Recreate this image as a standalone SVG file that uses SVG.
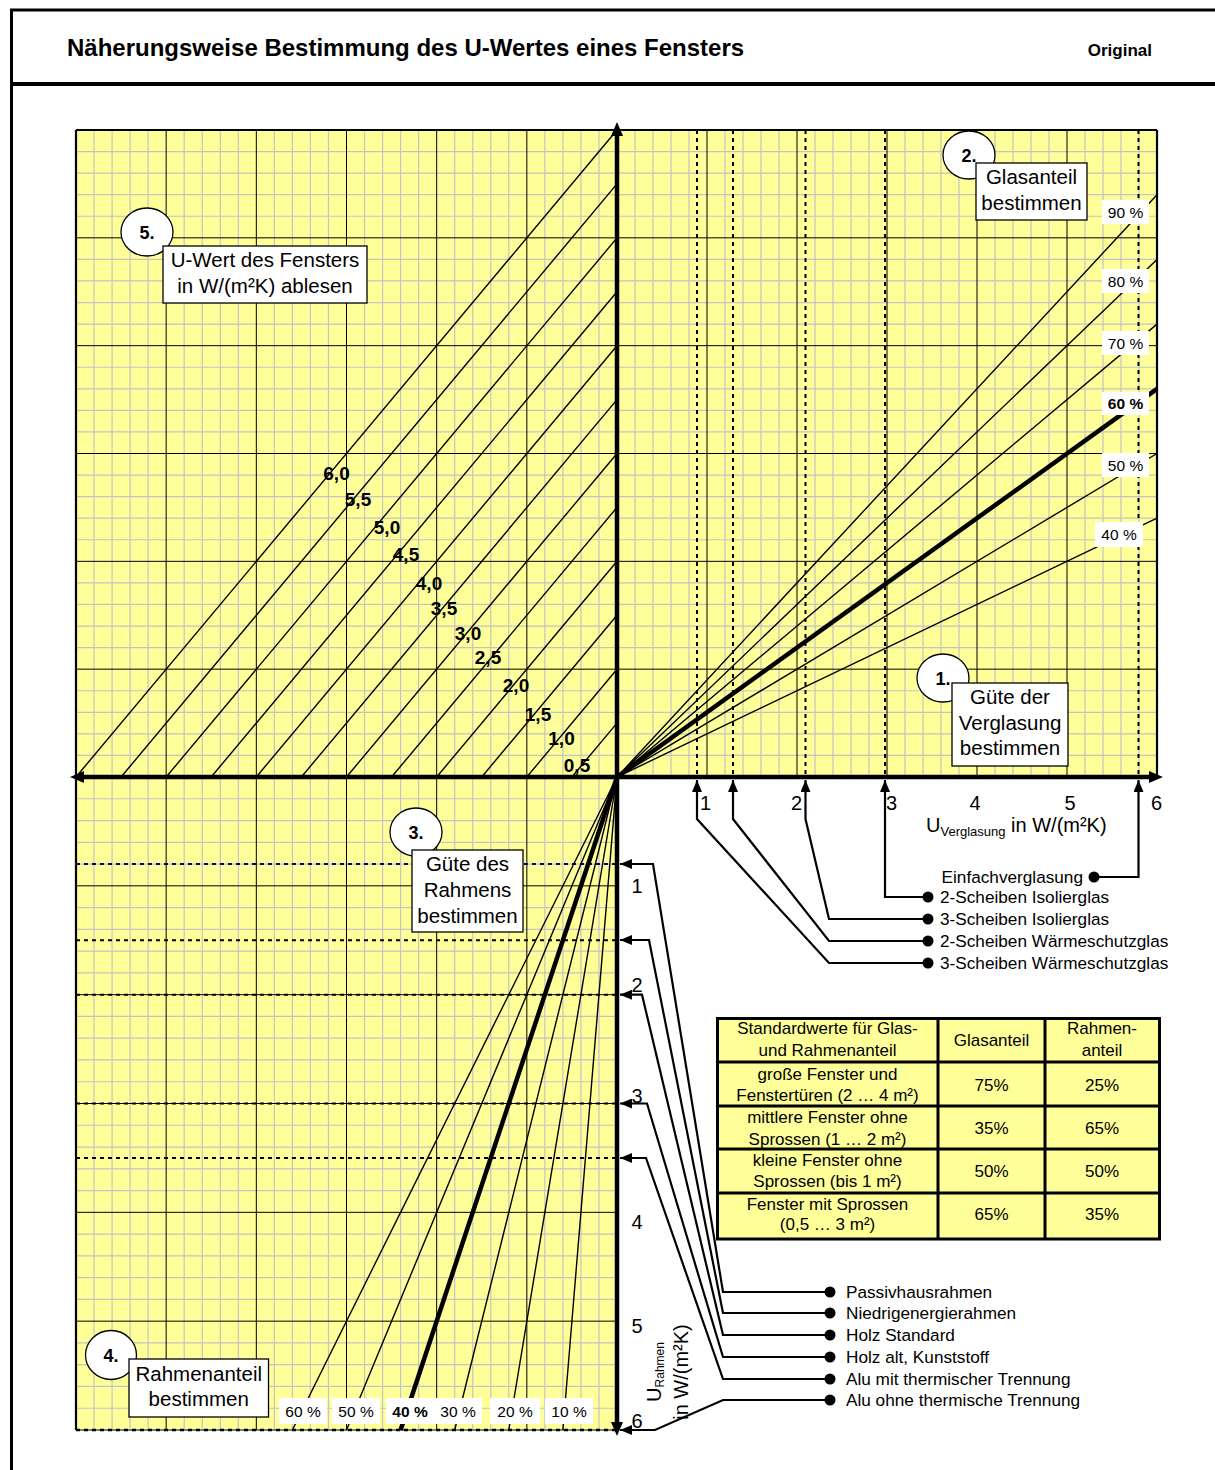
<svg xmlns="http://www.w3.org/2000/svg" width="1215" height="1470" viewBox="0 0 1215 1470">
<style>
.t{font-family:"Liberation Sans",Arial,sans-serif;fill:#000}
.b{font-weight:bold}
.mid{text-anchor:middle}
.minor{stroke:#c4c4c4;stroke-width:1.2;fill:none}
.major{stroke:#000;stroke-width:1;fill:none}
.dash{stroke:#000;stroke-width:2;stroke-dasharray:4 4;fill:none}
.diag{stroke:#000;stroke-width:1.4;fill:none}
.thick{stroke:#000;stroke-width:4.5;fill:none}
.axis{stroke:#000;stroke-width:4.5;fill:none}
.edge{stroke:#000;stroke-width:2.2;fill:none}
.conn{stroke:#000;stroke-width:2.2;fill:none}
.lbl{fill:#fff;stroke:none}
.box{fill:#fff;stroke:#000;stroke-width:1.3}
.circ{fill:#fff;stroke:#000;stroke-width:1.3}
.cell{fill:#ffff99;stroke:#000;stroke-width:3}
</style>
<defs>
<marker id="arr" viewBox="0 0 12 10" refX="12" refY="5" markerWidth="12" markerHeight="10" markerUnits="userSpaceOnUse" orient="auto"><path d="M0,0 L12,5 L0,10 z" fill="#000"/></marker>
</defs>
<rect x="0" y="0" width="1215" height="1470" fill="#fff"/>

<g id="frame">
<path d="M10,10 H1215 M11.5,10 V1470" stroke="#000" stroke-width="3" fill="none"/>
<path d="M10,84 H1215" stroke="#000" stroke-width="4" fill="none"/>
<text class="t b" x="67" y="56" font-size="24">Näherungsweise Bestimmung des U-Wertes eines Fensters</text>
<text class="t b" x="1152" y="56" font-size="17" text-anchor="end">Original</text>
</g>

<g id="chart-background">
<rect x="76" y="130" width="1081" height="647" fill="#ffff99"/>
<rect x="76" y="777" width="541" height="653" fill="#ffff99"/>
<path class="minor" d="M94.03,130V1430 M112.07,130V1430 M130.1,130V1430 M148.13,130V1430 M184.2,130V1430 M202.23,130V1430 M220.27,130V1430 M238.3,130V1430 M274.37,130V1430 M292.4,130V1430 M310.43,130V1430 M328.47,130V1430 M364.53,130V1430 M382.57,130V1430 M400.6,130V1430 M418.63,130V1430 M454.7,130V1430 M472.73,130V1430 M490.77,130V1430 M508.8,130V1430 M544.87,130V1430 M562.9,130V1430 M580.93,130V1430 M598.97,130V1430
M635,130V777 M653,130V777 M671,130V777 M689,130V777 M725,130V777 M743,130V777 M761,130V777 M779,130V777 M815,130V777 M833,130V777 M851,130V777 M869,130V777 M905,130V777 M923,130V777 M941,130V777 M959,130V777 M995,130V777 M1013,130V777 M1031,130V777 M1049,130V777 M1085,130V777 M1103,130V777 M1121,130V777 M1139,130V777
M76,151.57H1157 M76,173.13H1157 M76,194.7H1157 M76,216.27H1157 M76,259.4H1157 M76,280.97H1157 M76,302.53H1157 M76,324.1H1157 M76,367.23H1157 M76,388.8H1157 M76,410.37H1157 M76,431.93H1157 M76,475.07H1157 M76,496.63H1157 M76,518.2H1157 M76,539.77H1157 M76,582.9H1157 M76,604.47H1157 M76,626.03H1157 M76,647.6H1157 M76,690.73H1157 M76,712.3H1157 M76,733.87H1157 M76,755.43H1157
M76,798.77H617 M76,820.53H617 M76,842.3H617 M76,864.07H617 M76,907.6H617 M76,929.37H617 M76,951.13H617 M76,972.9H617 M76,1016.43H617 M76,1038.2H617 M76,1059.97H617 M76,1081.73H617 M76,1125.27H617 M76,1147.03H617 M76,1168.8H617 M76,1190.57H617 M76,1234.1H617 M76,1255.87H617 M76,1277.63H617 M76,1299.4H617 M76,1342.93H617 M76,1364.7H617 M76,1386.47H617 M76,1408.23H617"/>
<path class="major" d="M166.17,130V1430 M256.33,130V1430 M346.5,130V1430 M436.67,130V1430 M526.83,130V1430
M707,130V777 M797,130V777 M887,130V777 M977,130V777 M1067,130V777
M76,237.83H1157 M76,345.67H1157 M76,453.5H1157 M76,561.33H1157 M76,669.17H1157
M76,885.83H617 M76,994.67H617 M76,1103.5H617 M76,1212.33H617 M76,1321.17H617"/>
</g>

<g id="reference-lines">
<path class="dash" d="M697,130V777 M733,130V777 M805.5,130V777 M885,130V777 M1138.5,130V777"/>
<path class="dash" d="M76,864.1H617" stroke="#000080" style="stroke:#000080"/>
<path class="dash" d="M76,940.3H617 M76,994.67H617 M76,1103.5H617 M76,1157.9H617"/>
<path d="M76,1430H617" stroke="#000" stroke-width="1"/>
<path class="dash" d="M76,1430H617" style="stroke-width:2.5"/>
</g>

<g id="u-window-lines">
<path class="diag" d="M571.9,777L617,723.1 M526.8,777L617,669.2 M481.7,777L617,615.3 M436.7,777L617,561.3 M391.6,777L617,507.4 M346.5,777L617,453.5 M301.4,777L617,399.6 M256.3,777L617,345.7 M211.2,777L617,291.8 M166.2,777L617,237.9 M121.1,777L617,183.9 M76,777L617,130"/>
</g>

<g id="glass-share-lines">
<path class="diag" d="M617,777L1157,518.2 M617,777L1157,453.5 M617,777L1157,324.1 M617,777L1157,259.4 M617,777L1157,194.7"/>
<path class="thick" d="M617,777L1157,388.8"/>
</g>

<g id="frame-share-lines">
<path class="diag" d="M617,777L562.9,1430 M617,777L508.8,1430 M617,777L454.7,1430 M617,777L346.5,1430 M617,777L292.4,1430"/>
<path class="thick" d="M617,777L400.6,1430"/>
</g>

<g id="axes">
<path class="edge" d="M76,130H1157 M76,130V1430 M1157,130V777"/>
<path class="axis" d="M80,777H1153 M617,134V1426"/>
<path d="M617,122 L611,136 L623,136 z M1163,777 L1149,771 L1149,783 z M70,777 L84,771 L84,783 z M617,1436 L611,1422 L623,1422 z" fill="#000"/>
</g>

<g id="u-labels" class="t b mid" font-size="19">
<text x="336.5" y="480">6,0</text>
<text x="358" y="506">5,5</text>
<text x="387" y="534">5,0</text>
<text x="406" y="561">4,5</text>
<text x="429" y="590">4,0</text>
<text x="444" y="615">3,5</text>
<text x="468" y="640">3,0</text>
<text x="488" y="664">2,5</text>
<text x="516" y="692">2,0</text>
<text x="538" y="721">1,5</text>
<text x="561.5" y="745">1,0</text>
<text x="577" y="772">0,5</text>
</g>

<g id="glass-percent-labels" class="t mid" font-size="15.5">
<rect class="lbl" x="1102" y="200" width="47" height="24"/><text x="1125.5" y="217.5">90 %</text>
<rect class="lbl" x="1102" y="269" width="47" height="24"/><text x="1125.5" y="286.5">80 %</text>
<rect class="lbl" x="1102" y="331" width="47" height="24"/><text x="1125.5" y="348.5">70 %</text>
<rect class="lbl" x="1102" y="392" width="47" height="23"/><text class="b" x="1125.5" y="409">60 %</text>
<rect class="lbl" x="1102" y="453" width="47" height="24"/><text x="1125.5" y="470.5">50 %</text>
<rect class="lbl" x="1095" y="522" width="48" height="25"/><text x="1119" y="540">40 %</text>
</g>

<g id="frame-percent-labels" class="t mid" font-size="15.5">
<rect class="lbl" x="279" y="1398" width="48" height="26"/><text x="303" y="1416.5">60 %</text>
<rect class="lbl" x="332" y="1398" width="48" height="26"/><text x="356" y="1416.5">50 %</text>
<rect class="lbl" x="386" y="1398" width="48" height="26"/><text class="b" x="410" y="1416.5">40 %</text>
<rect class="lbl" x="434" y="1398" width="48" height="26"/><text x="458" y="1416.5">30 %</text>
<rect class="lbl" x="490" y="1398" width="50" height="26"/><text x="515" y="1416.5">20 %</text>
<rect class="lbl" x="545" y="1398" width="48" height="26"/><text x="569" y="1416.5">10 %</text>
</g>

<g id="x-axis-labels" class="t mid" font-size="20">
<text x="705.5" y="810">1</text>
<text x="796.5" y="810">2</text>
<text x="891.5" y="810">3</text>
<text x="975" y="810">4</text>
<text x="1070" y="810">5</text>
<text x="1156.5" y="810">6</text>
<text x="926" y="832" text-anchor="start">U<tspan font-size="13" dy="4">Verglasung</tspan><tspan dy="-4"> in W/(m²K)</tspan></text>
</g>

<g id="y-axis-labels" class="t mid" font-size="20">
<text x="637" y="893">1</text>
<text x="637" y="992">2</text>
<text x="637" y="1103">3</text>
<text x="637" y="1229">4</text>
<text x="637" y="1333">5</text>
<text x="637" y="1428">6</text>
<text transform="translate(661,1372) rotate(-90)">U<tspan font-size="12" dy="3">Rahmen</tspan></text>
<text transform="translate(688,1372) rotate(-90)">in W/(m²K)</text>
</g>

<g id="callout-1">
<ellipse class="circ" cx="943" cy="678" rx="26" ry="24"/>
<text class="t b mid" x="943" y="684.5" font-size="18">1.</text>
<rect class="box" x="952" y="683" width="116" height="83"/>
<text class="t mid" font-size="20.5"><tspan x="1010" y="704">Güte der</tspan><tspan x="1010" y="730">Verglasung</tspan><tspan x="1010" y="755">bestimmen</tspan></text>
</g>
<g id="callout-2">
<ellipse class="circ" cx="969" cy="155" rx="26" ry="24"/>
<text class="t b mid" x="969" y="161.5" font-size="18">2.</text>
<rect class="box" x="976" y="163" width="111" height="57"/>
<text class="t mid" font-size="20.5"><tspan x="1031.5" y="184">Glasanteil</tspan><tspan x="1031.5" y="210">bestimmen</tspan></text>
</g>
<g id="callout-3">
<ellipse class="circ" cx="416" cy="832" rx="26" ry="24"/>
<text class="t b mid" x="416" y="838.5" font-size="18">3.</text>
<rect class="box" x="412" y="850" width="111" height="82"/>
<text class="t mid" font-size="20.5"><tspan x="467.5" y="871">Güte des</tspan><tspan x="467.5" y="897">Rahmens</tspan><tspan x="467.5" y="923">bestimmen</tspan></text>
</g>
<g id="callout-4">
<ellipse class="circ" cx="111" cy="1355" rx="25.5" ry="24.5"/>
<text class="t b mid" x="111" y="1361.5" font-size="18">4.</text>
<rect class="box" x="129" y="1359" width="139.5" height="58"/>
<text class="t mid" font-size="20.5"><tspan x="198.75" y="1381">Rahmenanteil</tspan><tspan x="198.75" y="1406">bestimmen</tspan></text>
</g>
<g id="callout-5">
<ellipse class="circ" cx="147" cy="232" rx="26" ry="24"/>
<text class="t b mid" x="147" y="238.5" font-size="18">5.</text>
<rect class="box" x="163" y="246" width="204" height="57"/>
<text class="t mid" font-size="20.5"><tspan x="265" y="267">U-Wert des Fensters</tspan><tspan x="265" y="293">in W/(m²K) ablesen</tspan></text>
</g>

<g id="connectors">
<path class="conn" marker-end="url(#arr)" d="M1094,877 H1138.5 V780"/>
<path class="conn" marker-end="url(#arr)" d="M928,897 H885 V780"/>
<path class="conn" marker-end="url(#arr)" d="M928,919 H829 L805.5,819 V780"/>
<path class="conn" marker-end="url(#arr)" d="M928,941 H829 L733,819 V780"/>
<path class="conn" marker-end="url(#arr)" d="M928,963 H829 L697,819 V780"/>
<path class="conn" marker-end="url(#arr)" d="M830,1292 H723 L653,864 H620"/>
<path class="conn" marker-end="url(#arr)" d="M830,1313 H723 L649,940 H620"/>
<path class="conn" marker-end="url(#arr)" d="M830,1335 H723 L642,994.7 H620"/>
<path class="conn" marker-end="url(#arr)" d="M830,1357 H723 L647,1103.5 H620"/>
<path class="conn" marker-end="url(#arr)" d="M830,1379 H723 L646,1158 H620"/>
<path class="conn" marker-end="url(#arr)" d="M830,1400 H723 L655,1430 H620"/>
</g>

<g id="glazing-labels" class="t" font-size="17.2">
<circle cx="1094" cy="877" r="5.5"/><text x="1083" y="883" text-anchor="end">Einfachverglasung</text>
<circle cx="928" cy="897" r="5.5"/><text x="940" y="903">2-Scheiben Isolierglas</text>
<circle cx="928" cy="919" r="5.5"/><text x="940" y="925">3-Scheiben Isolierglas</text>
<circle cx="928" cy="941" r="5.5"/><text x="940" y="947">2-Scheiben Wärmeschutzglas</text>
<circle cx="928" cy="963" r="5.5"/><text x="940" y="969">3-Scheiben Wärmeschutzglas</text>
</g>

<g id="frame-labels" class="t" font-size="17.2">
<circle cx="830" cy="1292" r="5.5"/><text x="846" y="1298">Passivhausrahmen</text>
<circle cx="830" cy="1313" r="5.5"/><text x="846" y="1319">Niedrigenergierahmen</text>
<circle cx="830" cy="1335" r="5.5"/><text x="846" y="1341">Holz Standard</text>
<circle cx="830" cy="1357" r="5.5"/><text x="846" y="1363">Holz alt, Kunststoff</text>
<circle cx="830" cy="1379" r="5.5"/><text x="846" y="1385">Alu mit thermischer Trennung</text>
<circle cx="830" cy="1400" r="5.5"/><text x="846" y="1406">Alu ohne thermische Trennung</text>
</g>

<g id="standard-table">
<rect class="cell" x="717.5" y="1018.5" width="442" height="220.5"/>
<path d="M938,1018.5V1239 M1045,1018.5V1239 M717.5,1062H1159.5 M717.5,1106H1159.5 M717.5,1149H1159.5 M717.5,1193H1159.5" stroke="#000" stroke-width="3" fill="none"/>
<g class="t mid" font-size="17">
<text x="827.5" y="1034">Standardwerte für Glas-</text>
<text x="827.5" y="1056">und Rahmenanteil</text>
<text x="991.5" y="1046">Glasanteil</text>
<text x="1102" y="1034">Rahmen-</text>
<text x="1102" y="1056">anteil</text>
<text x="827.5" y="1080">große Fenster und</text>
<text x="827.5" y="1101">Fenstertüren (2 … 4 m²)</text>
<text x="991.5" y="1091">75%</text>
<text x="1102" y="1091">25%</text>
<text x="827.5" y="1123">mittlere Fenster ohne</text>
<text x="827.5" y="1145">Sprossen (1 … 2 m²)</text>
<text x="991.5" y="1134">35%</text>
<text x="1102" y="1134">65%</text>
<text x="827.5" y="1166">kleine Fenster ohne</text>
<text x="827.5" y="1187">Sprossen (bis 1 m²)</text>
<text x="991.5" y="1177">50%</text>
<text x="1102" y="1177">50%</text>
<text x="827.5" y="1210">Fenster mit Sprossen</text>
<text x="827.5" y="1230">(0,5 … 3 m²)</text>
<text x="991.5" y="1220">65%</text>
<text x="1102" y="1220">35%</text>
</g>
</g>
</svg>
